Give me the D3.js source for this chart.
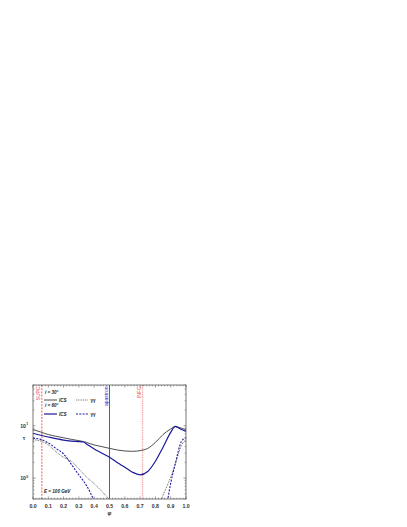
<!DOCTYPE html>
<html><head><meta charset="utf-8">
<script src="https://cdn.jsdelivr.net/npm/d3@7"></script>
<style>body{margin:0;background:#fff}svg{display:block}text{font-family:"Liberation Sans",Arial,sans-serif}</style>
</head><body><svg id="c" width="407" height="527"></svg>
<script>
const phases = [0,0.05,0.1,0.15,0.2,0.25,0.3,0.33,0.35,0.4,0.45,0.5,0.55,0.6,0.65,0.7,0.75,0.8,0.85,0.9,0.93,0.97,1.0];
const ics30 = [8.5,7.6,6.8,6.3,5.9,5.5,5.2,5.0,4.8,4.3,4.0,3.7,3.45,3.3,3.25,3.35,3.7,4.8,6.8,8.7,9.6,9.0,8.4];
const ics60 = [7.2,6.6,6.1,5.7,5.3,5.1,5.0,4.9,4.5,3.6,3.0,2.5,2.0,1.62,1.3,1.16,1.34,2.1,3.9,7.5,9.7,8.5,7.8];
const gg30  = [5.4,5.1,4.3,3.2,2.5,2.1,1.5,1.2,1.05,0.78,0.56,0.39,null,null,null,null,null,0.2,0.47,1.05,1.85,4.2,5.4];
const gg60  = [5.8,5.5,4.7,3.7,2.9,1.85,1.15,0.88,0.72,0.37,null,null,null,null,null,null,null,null,0.1,0.8,1.9,5.0,5.9];
const xTicks = [0,0.1,0.2,0.3,0.4,0.5,0.6,0.7,0.8,0.9,1.0];
const yTicks = [1,10];
const markers = [{name:"SUPC",phase:0.058},{name:"apastron",phase:0.5},{name:"INFC",phase:0.716}];

const svg = d3.select("#c");
const L=33,R=186,T=385,B=499;
const x = d3.scaleLinear().domain([0,1]).range([L,R]);
const y = d3.scaleLog().domain([0.4,60]).range([B,T]);

const defs = svg.append("defs");
defs.append("clipPath").attr("id","clip").append("rect").attr("x",L).attr("y",T).attr("width",R-L).attr("height",B-T);

// vertical markers
const mcol = {SUPC:"#e8383a",apastron:"#3a3aff",INFC:"#f4a0a0"};
const mdash = {SUPC:"2,1.2",apastron:null,INFC:"1,0.8"};
const mw = {SUPC:0.8,apastron:0.9,INFC:1.4};
markers.forEach(m=>{
  svg.append("line").attr("x1",x(m.phase)).attr("x2",x(m.phase)).attr("y1",T).attr("y2",B)
    .attr("stroke",mcol[m.name]).attr("stroke-width",mw[m.name]).attr("stroke-dasharray",mdash[m.name]);
  svg.append("text").attr("transform",`translate(${x(m.phase)-1.6},${T+1.5}) rotate(-90)`)
    .attr("text-anchor","end").attr("font-size",5).attr("fill",m.name==="apastron"?"#2a2ad8":"#e83030")
    .text(m.name);
});

// curves
const line = d3.line().defined(d=>d[1]!==null).x(d=>x(d[0])).y(d=>y(d[1])).curve(d3.curveMonotoneX);
const g = svg.append("g").attr("clip-path","url(#clip)");
const series = [
  {v:gg30,c:"#444",w:0.85,d:"0.9,0.9"},
  {v:gg60,c:"#1c1ca8",w:1.1,d:"2,1.3"},
  {v:ics30,c:"#3a3a3a",w:0.9,d:null},
  {v:ics60,c:"#1a1a9a",w:1.2,d:null}
];
series.forEach(s=>{
  g.append("path").datum(phases.map((p,i)=>[p,s.v[i]])).attr("d",line)
    .attr("fill","none").attr("stroke",s.c).attr("stroke-width",s.w).attr("stroke-dasharray",s.d);
});

// frame
svg.append("rect").attr("x",L).attr("y",T).attr("width",R-L).attr("height",B-T)
  .attr("fill","none").attr("stroke","#555").attr("stroke-width",0.8);

// ticks
const tk = svg.append("g").attr("stroke","#555").attr("stroke-width",0.6);
d3.range(0,1.0001,0.02).forEach(v=>{
  const major = xTicks.some(t=>Math.abs(t-v)<1e-6);
  const len = major?2.5:1.3;
  tk.append("line").attr("x1",x(v)).attr("x2",x(v)).attr("y1",B).attr("y2",B-len);
  tk.append("line").attr("x1",x(v)).attr("x2",x(v)).attr("y1",T).attr("y2",T+len);
});
const ymin=[];
[0.1,1,10].forEach(d=>{for(let k=1;k<10;k++){const v=k*d; if(v>=0.4&&v<=60) ymin.push(v);}});
ymin.forEach(v=>{
  const major = yTicks.includes(v);
  const len = major?2.5:1.3;
  tk.append("line").attr("x1",L).attr("x2",L+len).attr("y1",y(v)).attr("y2",y(v));
  tk.append("line").attr("x1",R).attr("x2",R-len).attr("y1",y(v)).attr("y2",y(v));
});

// tick labels
xTicks.forEach(v=>{
  svg.append("text").attr("x",x(v)).attr("y",B+8.5).attr("text-anchor","middle")
    .attr("font-size",5.2).attr("font-weight","bold").attr("fill","#333").text(v.toFixed(1));
});
yTicks.forEach(v=>{
  svg.append("text").attr("x",L-7).attr("y",y(v)+2).attr("text-anchor","end")
    .attr("font-size",5.2).attr("font-weight","bold").attr("fill","#333").text("10");
  svg.append("text").attr("x",L-6.7).attr("y",y(v)-0.6).attr("font-size",3.5).attr("font-weight","bold")
    .attr("fill","#333").text(Math.round(Math.log10(v)));
});
svg.append("text").attr("x",(L+R)/2).attr("y",B+16).attr("text-anchor","middle")
  .attr("font-size",5.5).attr("font-style","italic").attr("font-weight","bold").attr("fill","#333").text("φ");
svg.append("text").attr("x",24).attr("y",(T+B)/2-2).attr("text-anchor","middle")
  .attr("font-size",5.5).attr("font-weight","bold").attr("fill","#333").text("τ");

// legend
const lg = svg.append("g").attr("font-size",4.6).attr("font-weight","bold").attr("font-style","italic").attr("fill","#222");
lg.append("text").attr("x",45).attr("y",393.5).text("i = 30°");
lg.append("line").attr("x1",44).attr("x2",57).attr("y1",400).attr("y2",400).attr("stroke","#3a3a3a").attr("stroke-width",0.9);
lg.append("text").attr("x",59).attr("y",401.6).text("ICS");
lg.append("line").attr("x1",76).attr("x2",88).attr("y1",400).attr("y2",400).attr("stroke","#444").attr("stroke-width",0.8).attr("stroke-dasharray","0.9,0.9");
lg.append("text").attr("x",90.5).attr("y",401.6).attr("font-style","normal").text("γγ");
lg.append("text").attr("x",45).attr("y",407).text("i = 60°");
lg.append("line").attr("x1",44).attr("x2",57).attr("y1",414).attr("y2",414).attr("stroke","#1a1a9a").attr("stroke-width",1.2);
lg.append("text").attr("x",59).attr("y",415.6).text("ICS");
lg.append("line").attr("x1",76).attr("x2",88).attr("y1",414).attr("y2",414).attr("stroke","#1c1ca8").attr("stroke-width",1.1).attr("stroke-dasharray","2,1.3");
lg.append("text").attr("x",90.5).attr("y",415.6).attr("font-style","normal").text("γγ");
lg.append("text").attr("x",44).attr("y",492.5).text("E = 100 GeV");
</script></body></html>
